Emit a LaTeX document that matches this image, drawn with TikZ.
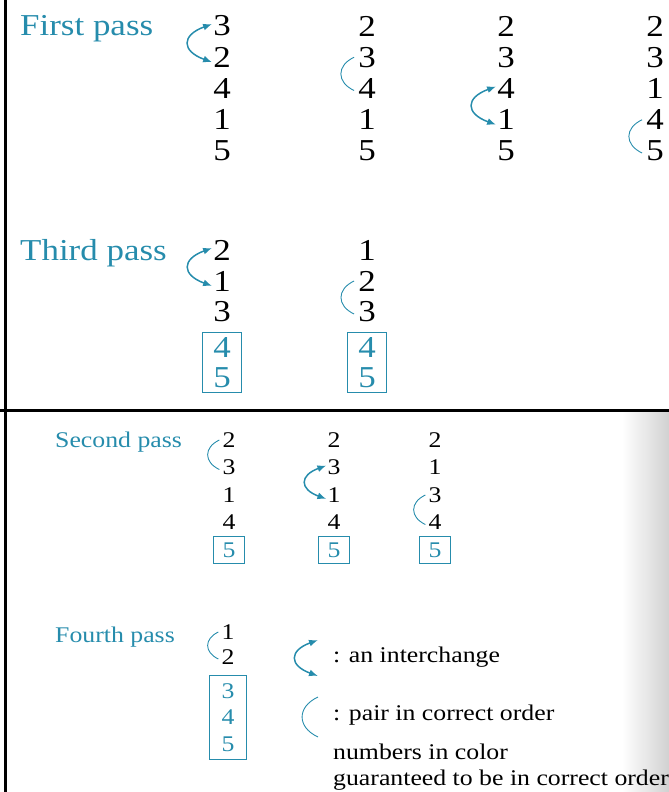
\documentclass[tikz,border=0pt]{standalone}
\usepackage{fontspec}
\setmainfont{Liberation Serif}[FakeStretch=1.15]
\usetikzlibrary{arrows.meta,fit,calc}

\definecolor{passblue}{RGB}{38,140,172}
\newcommand{\bigfont}{\fontsize{30.5}{33}\selectfont}
\newcommand{\smallfont}{\fontsize{22.5}{25}\selectfont}
\newcommand{\labsmall}{\fontsize{22.5}{25}\selectfont}

\tikzset{
  digit/.style={inner sep=0pt},
  passlabel/.style={anchor=base west,text=passblue,inner sep=0pt},
  swaparc/.style={draw=passblue,line width=1.5pt,{Latex[length=9pt,width=7pt]}-{Latex[length=9pt,width=7pt]},out=200,in=160,looseness=2.2},
  okarc/.style={draw=passblue,line width=0.9pt,out=205,in=155,looseness=1.5},
  bigbox/.style={draw=passblue,line width=1pt,inner xsep=11bp,inner ysep=4.5bp},
  smallbox/.style={draw=passblue,line width=1pt,inner xsep=9bp,inner ysep=6bp},
}

\begin{document}
\begin{tikzpicture}[x=1bp,y=1bp]
\useasboundingbox (0,0) rectangle (669,-792);
\clip (0,0) rectangle (669,-792);
% gutter shadow of the lower page
\shade[left color=white,right color=black!18] (622,-412) rectangle (669,-792);
\draw[line width=3bp] (5,0) -- (5,-792);
\draw[line width=3bp] (0,-410) -- (669,-410);

% first pass
\node[passlabel,font=\bigfont] (first) at (20,-36) {First pass};
\foreach \c/\x/\ds in {1/222/{3,2,4,1,5},2/367/{2,3,4,1,5},3/506/{2,3,4,1,5},4/655/{2,3,1,4,5}}
  \foreach \d [count=\r] in \ds
    \node[digit,font=\bigfont] (f\c-\r) at (\x,{-26-31.25*(\r-1)}) {\d};
\draw[swaparc] ([xshift=-1,yshift=2]f1-1.west) to ([xshift=-1,yshift=-5]f1-2.west);
\draw[okarc] ([xshift=-4]f2-2.west) to ([xshift=-4,yshift=-2]f2-3.west);
\draw[swaparc] ([xshift=-1,yshift=2]f3-3.west) to ([xshift=-1,yshift=-5]f3-4.west);
\draw[okarc] ([xshift=-4]f4-4.west) to ([xshift=-4,yshift=-2]f4-5.west);

% third pass
\node[passlabel,font=\bigfont] (third) at (20,-260) {Third pass};
\foreach \c/\x/\ds in {1/222/{2,1,3,4,5},2/367/{1,2,3,4,5}}
  \foreach \d [count=\r] in \ds {
    \ifnum\r>3 \def\tc{passblue}\else\def\tc{black}\fi
    \node[digit,font=\bigfont,text=\tc] (t\c-\r) at (\x,{-250-31*(\r-1)-(\r>3)*4}) {\d};
  }
\node[bigbox,fit=(t1-4)(t1-5)] (tbox1) {};
\node[bigbox,fit=(t2-4)(t2-5)] (tbox2) {};
\draw[swaparc] ([xshift=-1,yshift=2]t1-1.west) to ([xshift=-1,yshift=-5]t1-2.west);
\draw[okarc] ([xshift=-4]t2-2.west) to ([xshift=-4,yshift=-2]t2-3.west);

% second pass
\node[passlabel,font=\labsmall] (second) at (55,-447) {Second pass};
\foreach \c/\x/\ds in {1/229/{2,3,1,4,5},2/334/{2,3,1,4,5},3/435/{2,1,3,4,5}}{
  \foreach \d [count=\r] in \ds {
    \ifnum\r>4 \def\tc{passblue}\else\def\tc{black}\fi
    \node[digit,font=\smallfont,text=\tc] (s\c-\r) at (\x,{-440-27.5*(\r-1)}) {\d};
  }
  \node[smallbox,fit=(s\c-5)] (sbox\c) {};
}
\draw[okarc] ([xshift=-3]s1-1.west) to ([xshift=-3,yshift=-2]s1-2.west);
\draw[swaparc] ([xshift=-1,yshift=2]s2-2.west) to ([xshift=-1,yshift=-4]s2-3.west);
\draw[okarc] ([xshift=-3]s3-3.west) to ([xshift=-3,yshift=-2]s3-4.west);

% fourth pass
\node[passlabel,font=\labsmall] (fourth) at (55,-642) {Fourth pass};
\foreach \d/\y [count=\r] in {1/632,2/657,3/691,4/717,5/744}{
  \ifnum\r>2 \def\tc{passblue}\else\def\tc{black}\fi
  \node[digit,font=\smallfont,text=\tc] (q\r) at (228,-\y) {\d};
}
\node[smallbox,inner xsep=12bp,inner ysep=7.5bp,fit=(q3)(q5)] (qbox) {};
\draw[okarc] ([xshift=-3]q1.west) to ([xshift=-3,yshift=-2]q2.west);

% key
\coordinate (ia) at (318,-640);
\coordinate (ib) at (318,-676);
\draw[swaparc] (ia) to (ib);
\node[anchor=west,inner sep=0pt,font=\labsmall] (ilab) at (333,-657) {: an interchange};
\coordinate (pa) at (318,-697);
\coordinate (pb) at (318,-737);
\draw[okarc] (pa) to (pb);
\node[anchor=west,inner sep=0pt,font=\labsmall] (plab) at (333,-715) {: pair in correct order};
\node[anchor=west,inner sep=0pt,font=\labsmall] (note1) at (333,-752) {numbers in color};
\node[anchor=west,inner sep=0pt,font=\labsmall] (note2) at (333,-780) {guaranteed to be in correct order};
\end{tikzpicture}
\end{document}
